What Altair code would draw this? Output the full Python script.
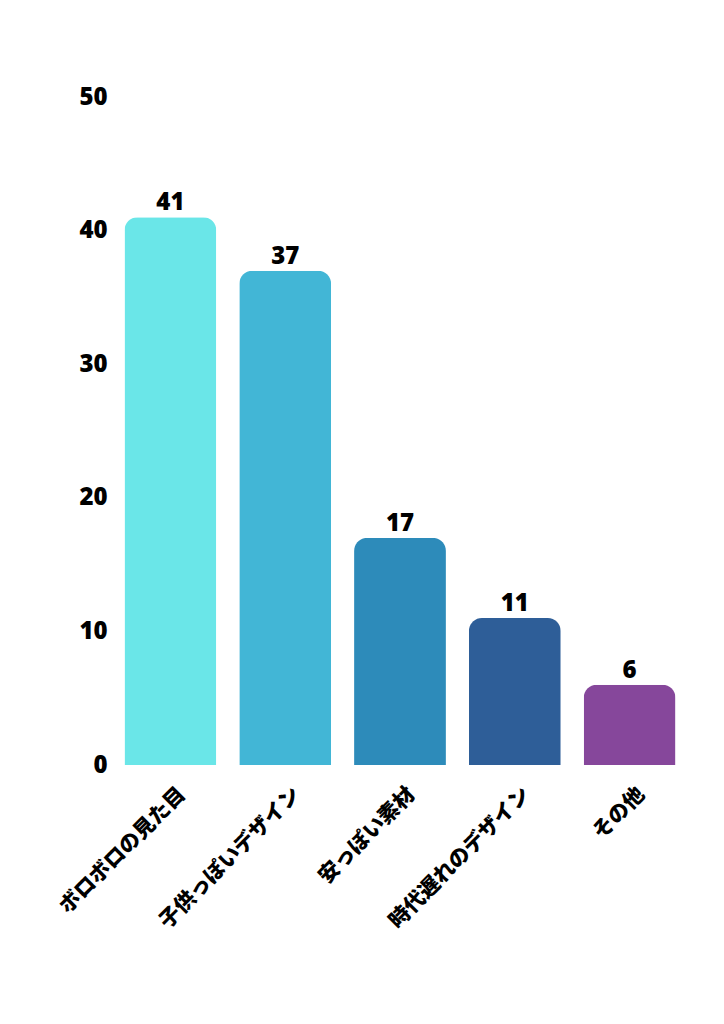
import altair as alt
import pandas as pd

categories = ["ボロボロの見た目", "子供っぽいデザイン", "安っぽい素材", "時代遅れのデザイン", "その他"]
values = [41, 37, 17, 11, 6]
colors = ["#6ae6e8", "#42b6d6", "#2d8bba", "#2e5e98", "#86479b"]
y_ticks = [0, 10, 20, 30, 40, 50]

df = pd.DataFrame({"cat": categories, "val": values})
FONT = "Noto Sans CJK JP"
NUMFONT = "Open Sans"

base = alt.Chart(df).encode(
    x=alt.X("cat:N", sort=categories,
            scale=alt.Scale(paddingInner=0.2, paddingOuter=0.1),
            axis=alt.Axis(title=None, labelAngle=-45, labelAlign="right", labelBaseline="middle",
                          labelFont=FONT, labelFontSize=21, labelFontWeight=900, labelColor="#000",
                          labelPadding=26, labelOffset=12, ticks=False, domain=False, grid=False,
                          labelLimit=300))
)

bars = base.mark_bar(cornerRadiusTopLeft=13, cornerRadiusTopRight=13).encode(
    y=alt.Y("val:Q", scale=alt.Scale(domain=[0, 50]),
            axis=alt.Axis(title=None, values=y_ticks, labelFont=NUMFONT, labelFontSize=24,
                          labelFontWeight=800, labelColor="#000", labelPadding=6,
                          ticks=False, domain=False, grid=False)),
    color=alt.Color("cat:N", sort=categories, scale=alt.Scale(domain=categories, range=colors), legend=None),
)

labels = base.mark_text(baseline="bottom", dy=-2, font=NUMFONT, fontSize=24, fontWeight=800, color="#000").encode(
    y="val:Q", text="val:Q"
)

chart = (bars + labels).properties(
    width=574, height=668,
    autosize=alt.AutoSizeParams(type="none"),
    padding={"left": 105, "top": 89, "right": 20, "bottom": 230},
    background="white",
).configure_view(stroke=None)

chart.save("out.html", embed_options={"renderer": "svg", "actions": False})
